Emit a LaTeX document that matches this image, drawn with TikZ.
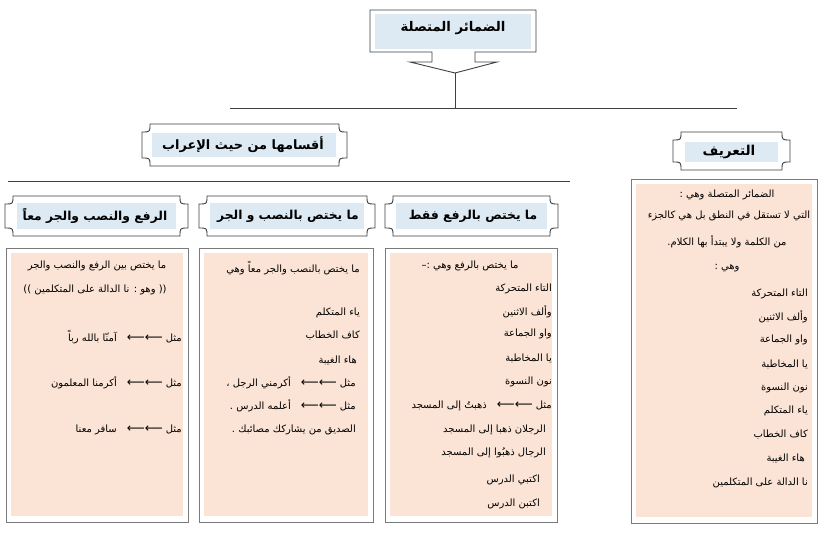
\documentclass[tikz,border=0pt]{standalone}
\usepackage{fontspec}
\TeXXeTstate=1
\newfontfamily\arfont[Script=Arabic]{DejaVu Sans}
\newfontfamily\arbfont[Script=Arabic]{DejaVu Sans Bold}
\newcommand{\AR}[1]{\beginR #1\endR}
\newcommand{\arr}{{\fontsize{12.5}{12}\selectfont ⟵⟵}}
\definecolor{bluefill}{HTML}{DDEAF4}
\definecolor{peach}{HTML}{FBE4D6}
\definecolor{boxgray}{HTML}{7A7A7A}
\definecolor{plaqueline}{HTML}{404040}
\newcommand{\plaq}[4]{%
  \draw[plaqueborder] (#1+8,#2) -- (#3-8,#2) .. controls (#3-8,#2+8) .. (#3,#2+8)
    -- (#3,#4-8) .. controls (#3-8,#4-8) .. (#3-8,#4)
    -- (#1+8,#4) .. controls (#1+8,#4-8) .. (#1,#4-8)
    -- (#1,#2+8) .. controls (#1+8,#2+8) .. (#1+8,#2) -- cycle;}
\tikzset{
  plaqueborder/.style={draw=plaqueline, line width=0.9pt, fill=white},
  bluebox/.style={fill=bluefill, inner sep=0pt, anchor=north west},
  hdr/.style={font=\arbfont\fontsize{12.3}{14}\selectfont, inner sep=0pt},
  ttl/.style={font=\arbfont\fontsize{13.3}{15}\selectfont, inner sep=0pt},
  body/.style={font=\arfont\fontsize{10}{12}\selectfont, inner sep=0pt},
  bodyr/.style={body, anchor=east},
  contentbox/.style={draw=boxgray, line width=1.2pt, fill=white, inner sep=0pt, anchor=north west},
  peachbox/.style={fill=peach, inner sep=0pt, anchor=north west},
  conn/.style={draw=plaqueline, line width=0.8pt},
}
\begin{document}
\begin{tikzpicture}[x=1pt,y=-1pt]
\useasboundingbox (0,0) rectangle (823,540);
\fill[white] (0,0) rectangle (823,540);

% title callout
\draw[plaqueborder] (370,10) -- (536,10) -- (536,52) -- (475,52) -- (475,62) -- (497,62)
  -- (455,73) -- (410,62) -- (432,62) -- (432,52) -- (370,52) -- cycle;
\node[bluebox, minimum width=156pt, minimum height=35pt] (titlebg) at (375,14) {};
\node[ttl] (title) at (453,28) {\AR{الضمائر المتصلة}};
\coordinate (tip) at (455,73);
\coordinate (hleft) at (230,108);
\coordinate (hright) at (737,108);
\coordinate (hmid) at (455,108);
\draw[conn] (tip) -- (hmid);
\draw[conn] (hleft) -- (hright);

% section headers
\plaq{142}{124}{347}{166}
\node[bluebox, minimum width=184pt, minimum height=24pt] (aqsambg) at (152,133) {};
\node[hdr, font=\arbfont\fontsize{12.9}{14}\selectfont] (aqsam) at (243,145) {\AR{أقسامها من حيث الإعراب}};
\coordinate (uleft) at (8,181);
\coordinate (uright) at (570,181);
\draw[conn] (uleft) -- (uright);

\plaq{673}{132}{790}{170}
\node[bluebox, minimum width=93pt, minimum height=20pt] (tarifbg) at (685,142) {};
\node[hdr, font=\arbfont\fontsize{13.6}{15}\selectfont] (tarif) at (729,152) {\AR{التعريف}};

% column headers
\plaq{5}{196}{188}{236}
\node[bluebox, minimum width=159pt, minimum height=26pt] (h1bg) at (17,203) {};
\node[hdr] (h1) at (95,216) {\AR{الرفع والنصب والجر معاً}};
\plaq{199}{196}{375}{236}
\node[bluebox, minimum width=154pt, minimum height=26pt] (h2bg) at (210,203) {};
\node[hdr] (h2) at (288,216) {\AR{ما يختص بالنصب و الجر}};
\plaq{385}{196}{558}{236}
\node[bluebox, minimum width=151pt, minimum height=26pt] (h3bg) at (396,203) {};
\node[hdr] (h3) at (473,216) {\AR{ما يختص بالرفع فقط}};

% content boxes
\node[contentbox, minimum width=186pt, minimum height=344pt] (defbox) at (631,179) {};
\node[peachbox, minimum width=176pt, minimum height=333pt] (defbg) at (636,184) {};
\node[contentbox, minimum width=172pt, minimum height=274pt] (c3box) at (385,248) {};
\node[peachbox, minimum width=162pt, minimum height=263pt] (c3bg) at (390,253) {};
\node[contentbox, minimum width=174pt, minimum height=274pt] (c2box) at (199,248) {};
\node[peachbox, minimum width=164pt, minimum height=263pt] (c2bg) at (204,253) {};
\node[contentbox, minimum width=182pt, minimum height=274pt] (c1box) at (6,248) {};
\node[peachbox, minimum width=172pt, minimum height=263pt] (c1bg) at (11,253) {};

% definition text
\node[body] (d1) at (727,195) {\AR{الضمائر المتصلة وهي :}};
\node[body] (d2) at (729,216) {\AR{التي لا تستقل في النطق بل هي كالجزء}};
\node[body] (d3) at (727,242) {\AR{من الكلمة ولا يبتدأ بها الكلام.}};
\node[body] (d4) at (727,268) {\AR{وهي :}};
\node[bodyr] (d5) at (808,294) {\AR{التاء المتحركة}};
\node[bodyr] (d6) at (808,317) {\AR{وألف الاثنين}};
\node[bodyr] (d7) at (808,340) {\AR{واو الجماعة}};
\node[bodyr] (d8) at (808,364) {\AR{يا المخاطبة}};
\node[bodyr] (d9) at (808,388) {\AR{نون النسوة}};
\node[bodyr] (d10) at (808,411) {\AR{ياء المتكلم}};
\node[bodyr] (d11) at (808,435) {\AR{كاف الخطاب}};
\node[bodyr] (d12) at (805,458) {\AR{هاء الغيبة}};
\node[bodyr] (d13) at (808,483) {\AR{نا الدالة على المتكلمين}};

% column 3 text
\node[body] (r1) at (470,266) {\AR{ما يختص بالرفع وهي :–}};
\node[bodyr] (r2) at (552,289) {\AR{التاء المتحركة}};
\node[bodyr] (r3) at (552,312) {\AR{وألف الاثنين}};
\node[bodyr] (r4) at (552,334) {\AR{واو الجماعة}};
\node[bodyr] (r5) at (552,358) {\AR{يا المخاطبة}};
\node[bodyr] (r6) at (552,382) {\AR{نون النسوة}};
\node[bodyr] (r7) at (552,406) {\AR{مثل \arr\quad ذهبتُ إلى المسجد}};
\node[bodyr] (r8) at (546,430) {\AR{الرجلان ذهبا إلى المسجد}};
\node[bodyr] (r9) at (546,453) {\AR{الرجال ذهبُوا إلى المسجد}};
\node[bodyr] (r10) at (540,480) {\AR{اكتبي الدرس}};
\node[bodyr] (r11) at (540,504) {\AR{اكتبن الدرس}};

% column 2 text
\node[bodyr] (m1) at (360,268) {\AR{ما يختص بالنصب والجر معاً وهي}};
\node[bodyr] (m2) at (360,313) {\AR{ياء المتكلم}};
\node[bodyr] (m3) at (360,336) {\AR{كاف الخطاب}};
\node[bodyr] (m4) at (357,360) {\AR{هاء الغيبة}};
\node[bodyr] (m5) at (356,383) {\AR{مثل \arr\quad أكرمني الرجل ،}};
\node[bodyr] (m6) at (356,406) {\AR{مثل \arr\quad أعلمه الدرس .}};
\node[bodyr] (m7) at (356,430) {\AR{الصديق من يشاركك مصائبك .}};

% column 1 text
\node[body] (l1) at (97,266) {\AR{ما يختص بين الرفع والنصب والجر}};
\node[body] (l2) at (95,290) {\AR{(( وهو : نا الدالة على المتكلمين ))}};
\node[bodyr] (l3) at (182,337) {\AR{مثل \arr\quad آمنّا بالله رباً}};
\node[bodyr] (l4) at (182,383) {\AR{مثل \arr\quad أكرمنا المعلمون}};
\node[bodyr] (l5) at (182,430) {\AR{مثل \arr\quad سافر معنا}};
\end{tikzpicture}
\end{document}
